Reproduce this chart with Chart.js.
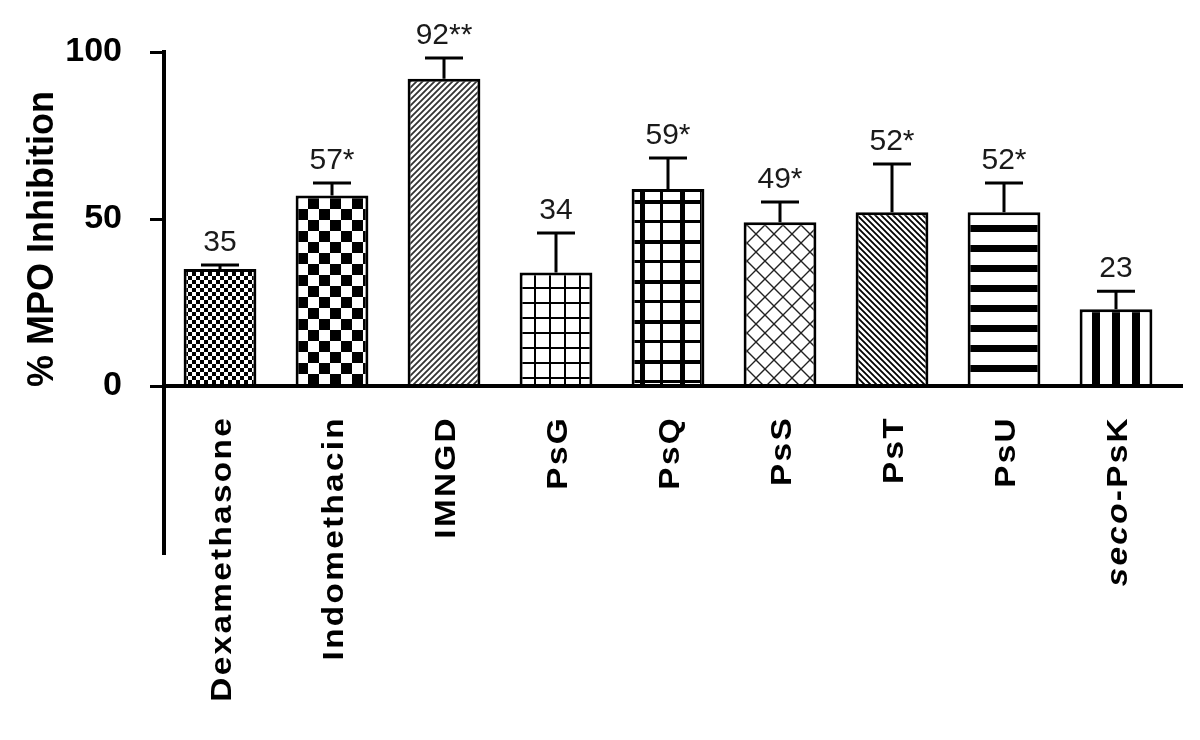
<!DOCTYPE html>
<html><head><meta charset="utf-8">
<script src="https://cdn.jsdelivr.net/npm/chart.js@4"></script>
<style>html,body{margin:0;padding:0;background:#fff;} #wrap{width:1200px;height:740px;}</style>
</head><body><div id="wrap"><canvas id="c" width="1200" height="740"></canvas></div>
<script>
const categories = ['Dexamethasone','Indomethacin','IMNGD','PsG','PsQ','PsS','PsT','PsU','seco-PsK'];
const meanValues = [35, 57, 92, 34, 59, 49, 52, 52, 23];
const errorValues = [1.2, 3.8, 6.2, 11.8, 9.3, 6.1, 14.5, 8.8, 5.4];
const valueLabels = ['35','57*','92**','34','59*','49*','52*','52*','23'];
const yTicks = [0, 50, 100];
const yTitle = '% MPO Inhibition';

const FAM = '"Liberation Sans", Arial, Helvetica, sans-serif';
const mainCtx = document.getElementById('c').getContext('2d');

function makePattern(w, h, draw) {
  const c = document.createElement('canvas');
  c.width = w; c.height = h;
  const g = c.getContext('2d');
  g.fillStyle = '#fff'; g.fillRect(0, 0, w, h);
  g.fillStyle = '#000'; g.strokeStyle = '#000';
  draw(g, w, h);
  return mainCtx.createPattern(c, 'repeat');
}
const patterns = [
  makePattern(8, 8, g => { g.fillRect(0,0,4,4); g.fillRect(4,4,4,4); }),
  makePattern(22, 22, g => { g.fillRect(0,0,11,11); g.fillRect(11,11,11,11); }),
  makePattern(6, 6, g => { g.strokeStyle = '#333'; g.lineWidth = 1.8; g.beginPath();
    g.moveTo(-1,7); g.lineTo(7,-1); g.moveTo(-4,4); g.lineTo(4,-4); g.moveTo(2,10); g.lineTo(10,2); g.stroke(); }),
  makePattern(15, 15, g => { g.fillRect(0,2,15,2); g.fillRect(9,0,2,15); }),
  makePattern(40, 40, g => { g.fillRect(0,0,5,40); g.fillRect(20,0,3,40); g.fillRect(0,0,40,4); g.fillRect(0,20,40,3); }),
  makePattern(18, 18, g => { g.strokeStyle = '#222'; g.lineWidth = 1.4; g.beginPath();
    g.moveTo(0,0); g.lineTo(18,18); g.moveTo(0,18); g.lineTo(18,0); g.stroke();
    g.fillStyle = '#222'; g.fillRect(8,8,2,2); g.fillRect(0,0,1,1); }),
  makePattern(6, 6, g => { g.lineWidth = 1.8; g.beginPath();
    g.moveTo(-1,-1); g.lineTo(7,7); g.moveTo(-4,2); g.lineTo(4,10); g.moveTo(2,-4); g.lineTo(10,4); g.stroke(); }),
  makePattern(20, 20, g => { g.fillRect(0,5,20,7); }),
  makePattern(20, 20, g => { g.fillRect(12,0,8,20); })
];

const decor = {
  id: 'decor',
  afterDatasetsDraw(chart) {
    const { ctx, chartArea, scales: { x, y } } = chart;
    ctx.save();
    ctx.strokeStyle = '#000';
    // error bars and value labels
    meanValues.forEach((m, i) => {
      const cx = x.getPixelForValue(i);
      const yTop = y.getPixelForValue(m);
      const yCap = y.getPixelForValue(m + errorValues[i]);
      ctx.lineWidth = 3;
      ctx.beginPath();
      ctx.moveTo(cx, yTop); ctx.lineTo(cx, yCap);
      ctx.moveTo(cx - 19, yCap); ctx.lineTo(cx + 19, yCap);
      ctx.stroke();
      ctx.fillStyle = '#1a1a1a';
      ctx.font = '30px ' + FAM;
      ctx.textAlign = 'center'; ctx.textBaseline = 'alphabetic';
      ctx.fillText(valueLabels[i], cx, yCap - 14);
    });
    // zero line
    const y0 = y.getPixelForValue(0);
    ctx.lineWidth = 4;
    ctx.beginPath(); ctx.moveTo(chartArea.left, y0); ctx.lineTo(chartArea.right + 11, y0); ctx.stroke();
    // category labels
    ctx.fillStyle = '#000';
    categories.forEach((lab, i) => {
      const cx = x.getPixelForValue(i);
      ctx.save();
      ctx.translate(cx + 11, y0 + 30);
      ctx.rotate(-Math.PI / 2);
      ctx.scale(1.15, 1);
      ctx.letterSpacing = '2px';
      ctx.textAlign = 'right'; ctx.textBaseline = 'alphabetic';
      if (lab.startsWith('seco-')) {
        const rest = lab.slice(4);
        ctx.font = 'bold 29px ' + FAM;
        const w = ctx.measureText(rest).width;
        ctx.fillText(rest, 0, 0);
        ctx.font = 'italic bold 29px ' + FAM;
        ctx.fillText('seco', -w, 0);
      } else {
        ctx.font = 'bold 29px ' + FAM;
        ctx.fillText(lab, 0, 0);
      }
      ctx.restore();
    });
    // y title
    ctx.save();
    ctx.translate(53, y.getPixelForValue(44));
    ctx.rotate(-Math.PI / 2);
    ctx.font = 'bold 36px ' + FAM;
    ctx.textAlign = 'center'; ctx.textBaseline = 'alphabetic';
    ctx.fillText(yTitle, 0, 0);
    ctx.restore();
    ctx.restore();
  }
};

new Chart(document.getElementById('c'), {
  type: 'bar',
  data: {
    labels: categories,
    datasets: [{
      data: meanValues,
      backgroundColor: patterns,
      borderColor: '#000',
      borderWidth: 3,
      borderSkipped: 'start',
      barPercentage: 0.65,
      categoryPercentage: 1.0
    }]
  },
  options: {
    responsive: false,
    animation: false,
    layout: { padding: { top: 52, right: 28, bottom: 187, left: 0 } },
    plugins: { legend: { display: false }, tooltip: { enabled: false } },
    scales: {
      x: { display: false },
      y: {
        min: -50, max: 100,
        afterBuildTicks: s => { s.ticks = yTicks.map(v => ({ value: v })); },
        afterFit: s => { s.width = 164; },
        ticks: { font: { family: FAM, size: 34, weight: 'bold' }, color: '#000', padding: 28 },
        grid: { display: true, drawOnChartArea: false, drawTicks: true, tickLength: 14, lineWidth: 3, color: '#000' },
        border: { display: true, width: 4, color: '#000' }
      }
    }
  },
  plugins: [decor]
});
</script>
</body></html>
